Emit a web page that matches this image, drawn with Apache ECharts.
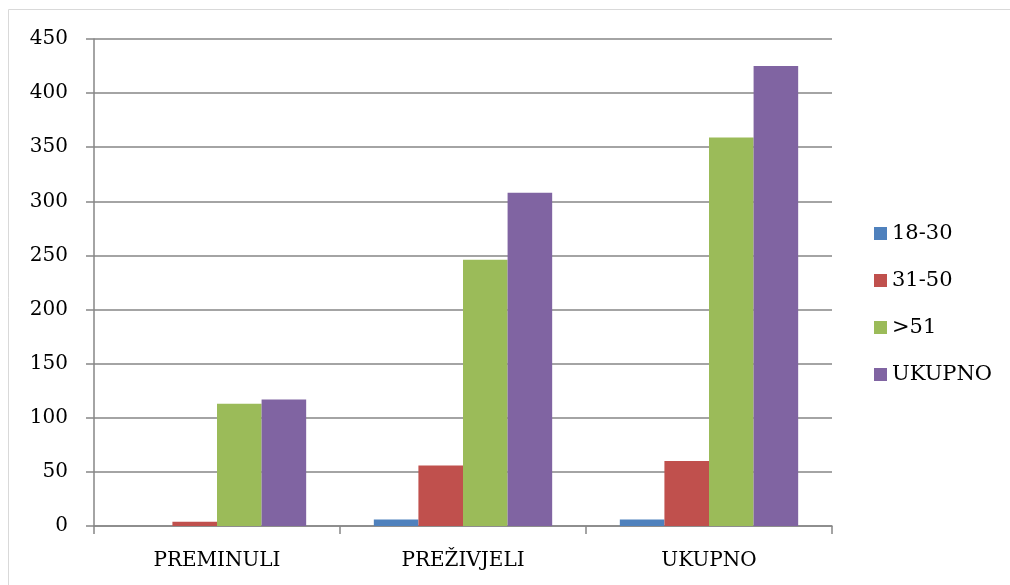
<!DOCTYPE html>
<html>
<head>
<meta charset="utf-8">
<script src="https://cdn.jsdelivr.net/npm/echarts@6/dist/echarts.min.js"></script>
<style>
html,body{margin:0;padding:0;background:#fff;}
#c{width:1010px;height:585px;}
</style>
</head>
<body>
<div id="c"></div>
<script>
var categories = ['PREMINULI', 'PREŽIVJELI', 'UKUPNO'];
var seriesNames = ['18-30', '31-50', '>51', 'UKUPNO'];
var s1830 = [0, 6, 6];
var s3150 = [4, 56, 60];
var s51 = [113, 246, 359];
var sUkupno = [117, 308, 425];
var yTicks = [0, 50, 100, 150, 200, 250, 300, 350, 400, 450];

var colors = ['#4f81bd', '#c0504d', '#9bbb59', '#8064a2'];
var values = [s1830, s3150, s51, sUkupno];
var font = 'DejaVu Serif';

var chart = echarts.init(document.getElementById('c'));
chart.setOption({
  animation: false,
  color: colors,
  graphic: [{
    type: 'polyline',
    shape: { points: [[8.5, 590], [8.5, 9.5], [1015, 9.5]] },
    style: { stroke: '#d9d9d9', lineWidth: 1, fill: null },
    silent: true
  }],
  grid: { left: 94, right: 178, top: 39, bottom: 59, containLabel: false },
  legend: {
    orient: 'vertical',
    left: 869,
    top: 218,
    itemWidth: 13,
    itemHeight: 13,
    itemGap: 26,
    icon: 'rect',
    data: seriesNames,
    textStyle: { fontFamily: font, fontSize: 21, color: '#000' }
  },
  xAxis: {
    type: 'category',
    data: categories,
    axisLine: { lineStyle: { color: '#868686', width: 1.5 } },
    axisTick: { show: true, length: 8, lineStyle: { color: '#868686', width: 1.5 } },
    axisLabel: { fontFamily: font, fontSize: 20, color: '#000', margin: 25 }
  },
  yAxis: {
    type: 'value',
    min: yTicks[0],
    max: yTicks[yTicks.length - 1],
    interval: 50,
    axisLine: { show: true, lineStyle: { color: '#868686', width: 1.5 } },
    axisTick: { show: true, length: 8, lineStyle: { color: '#868686', width: 1.5 } },
    splitLine: { lineStyle: { color: '#868686', width: 1.5 } },
    axisLabel: { fontFamily: font, fontSize: 20, color: '#000', margin: 26 }
  },
  series: seriesNames.map(function (n, i) {
    return {
      name: n,
      type: 'bar',
      data: values[i],
      barGap: '0%',
      barCategoryGap: '27.5%',
      itemStyle: { color: colors[i] }
    };
  })
});
</script>
</body>
</html>
